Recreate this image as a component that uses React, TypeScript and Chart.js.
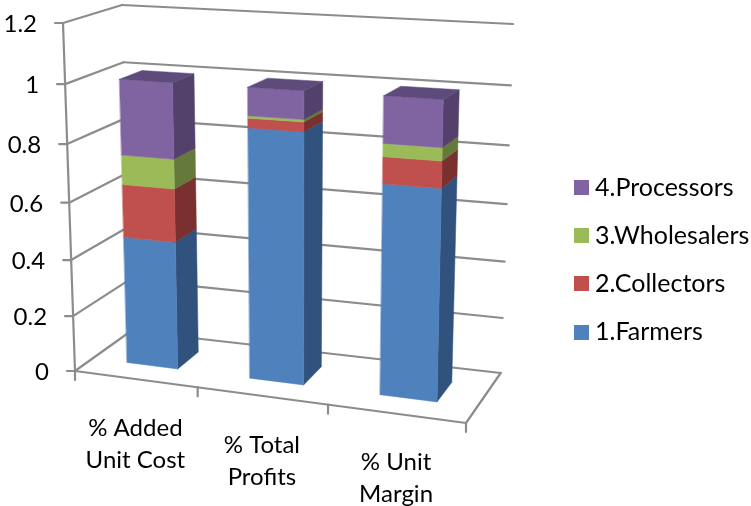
import React, { useEffect, useRef } from "react";
import { Chart, registerables } from "chart.js";

Chart.register(...registerables);

// Stage shares per value-chain step; every column stacks to 100%.
const categories = [["% Added", "Unit Cost"], ["% Total", "Profits"], ["% Unit", "Margin"]];
const farmers = [0.456, 0.867, 0.717];
const collectors = [0.185, 0.032, 0.088];
const wholesalers = [0.102, 0.008, 0.043];
const processors = [0.257, 0.093, 0.152];

const FONT = "Lato, Carlito, Calibri, sans-serif";
const GRID = "#8c8c8c";

type Pt = [number, number];

// Corners of the plot box as seen on screen: [u][v][d] = right?, top?, back?
const CORNERS: Pt[][][] = [
  [
    [[75, 371], [131, 331]],
    [[63, 23], [122, 5]],
  ],
  [
    [[466, 423], [500.7, 373]],
    [[474.5, 43.4], [513, 24]],
  ],
];

// Foreshortening along the two in-plane axes.
const warpU = (t: number) => t - 0.088 * t * (1 - t);
const warpV = (t: number) => t - 0.065 * t * (1 - t);

// Maps plot coordinates (fractions of the scales, plus depth) to the canvas.
function project(t: number, s: number, d: number): Pt {
  const u = warpU(t);
  const v = warpV(s);
  const out: Pt = [0, 0];
  for (let a = 0; a < 2; a++)
    for (let b = 0; b < 2; b++)
      for (let c = 0; c < 2; c++) {
        const w = (a ? u : 1 - u) * (b ? v : 1 - v) * (c ? d : 1 - d);
        out[0] += w * CORNERS[a][b][c][0];
        out[1] += w * CORNERS[a][b][c][1];
      }
  return out;
}

function quad(ctx: CanvasRenderingContext2D, pts: Pt[], color: string) {
  ctx.beginPath();
  pts.forEach((p, i) => (i ? ctx.lineTo(p[0], p[1]) : ctx.moveTo(p[0], p[1])));
  ctx.closePath();
  ctx.fillStyle = color;
  ctx.strokeStyle = color;
  ctx.lineWidth = 0.5;
  ctx.fill();
  ctx.stroke();
}

function line(ctx: CanvasRenderingContext2D, a: Pt, b: Pt) {
  ctx.beginPath();
  ctx.moveTo(a[0], a[1]);
  ctx.lineTo(b[0], b[1]);
  ctx.stroke();
}

const BAR_NEAR = 0.32;
const BAR_FAR = 0.72;

const box3d = {
  id: "box3d",
  beforeDatasetsDraw(chart: any) {
    const { ctx } = chart;
    const xs = chart.scales.x;
    const ys = chart.scales.y;
    const toT = (px: number) => (px - xs.left) / xs.width;
    const toS = (px: number) => (ys.bottom - px) / ys.height;

    ctx.save();
    ctx.strokeStyle = GRID;
    ctx.lineWidth = 2.2;
    ctx.lineCap = "round";

    // Walls: one gridline per tick across the side wall and the back wall.
    for (const tick of ys.ticks) {
      const s = toS(ys.getPixelForValue(tick.value));
      const front = project(0, s, 0);
      const back = project(0, s, 1);
      const right = project(1, s, 1);
      line(ctx, front, back);
      line(ctx, back, right);
      line(ctx, [front[0] - 8, front[1]], front);
    }
    line(ctx, project(0, 0, 0), project(0, 1, 0));

    // Floor outline and category ticks.
    line(ctx, project(0, 0, 0), project(1, 0, 0));
    line(ctx, project(1, 0, 0), project(1, 0, 1));
    const n = categories.length;
    for (let i = 0; i <= n; i++) {
      const p = project(i / n, 0, 0);
      line(ctx, p, [p[0], p[1] + 9]);
    }

    // Columns, left to right and bottom to top.
    const metas = chart.getSortedVisibleDatasetMetas().slice().sort((a: any, b: any) => a.index - b.index);
    for (let i = 0; i < n; i++) {
      metas.forEach((meta: any, k: number) => {
        const ds = chart.data.datasets[meta.index];
        const el = meta.data[i];
        const t0 = toT(el.x - el.width / 2);
        const t1 = toT(el.x + el.width / 2);
        const s0 = toS(el.base);
        const s1 = toS(el.y);
        quad(ctx, [project(t1, s0, BAR_NEAR), project(t1, s0, BAR_FAR), project(t1, s1, BAR_FAR), project(t1, s1, BAR_NEAR)], ds.sideColor);
        quad(ctx, [project(t0, s0, BAR_NEAR), project(t1, s0, BAR_NEAR), project(t1, s1, BAR_NEAR), project(t0, s1, BAR_NEAR)], ds.backgroundColor);
        if (k === metas.length - 1) {
          quad(ctx, [project(t0, s1, BAR_NEAR), project(t1, s1, BAR_NEAR), project(t1, s1, BAR_FAR), project(t0, s1, BAR_FAR)], ds.topColor);
        }
      });
    }

    // Value labels.
    ctx.fillStyle = "#000";
    ctx.font = `24px ${FONT}`;
    ctx.textBaseline = "middle";
    ctx.textAlign = "right";
    for (const tick of ys.ticks) {
      const p = project(0, toS(ys.getPixelForValue(tick.value)), 0);
      ctx.fillText(tick.label, p[0] - 26, p[1] + 1.5);
    }

    // Category labels follow the slope of the front edge.
    ctx.textAlign = "center";
    categories.forEach((lines, i) => {
      const p = project(toT(xs.getPixelForValue(i)), 0, 0);
      lines.forEach((text, j) => ctx.fillText(text, p[0], p[1] + 49 + j * 32));
    });

    // Legend, newest series on top.
    ctx.textAlign = "left";
    ctx.font = `25px ${FONT}`;
    metas.slice().reverse().forEach((meta: any, k: number) => {
      const ds = chart.data.datasets[meta.index];
      const cy = 187.5 + k * 48.2;
      ctx.fillStyle = ds.backgroundColor;
      ctx.fillRect(574, Math.round(cy - 7.5), 15, 15);
      ctx.fillStyle = "#000";
      ctx.fillText(ds.label, 595, cy);
    });

    ctx.restore();
    return false;
  },
};

export default function App() {
  const ref = useRef<HTMLCanvasElement>(null);

  useEffect(() => {
    const chart = new Chart(ref.current!, {
      type: "bar",
      data: {
        labels: categories,
        datasets: [
          { label: "1.Farmers", data: farmers, backgroundColor: "#4F81BD", sideColor: "#30527D" },
          { label: "2.Collectors", data: collectors, backgroundColor: "#C0504D", sideColor: "#7A302E" },
          { label: "3.Wholesalers", data: wholesalers, backgroundColor: "#9BBB59", sideColor: "#657A3A" },
          { label: "4.Processors", data: processors, backgroundColor: "#8064A2", sideColor: "#53416B", topColor: "#5F4A7C" },
        ] as any,
      },
      options: {
        responsive: false,
        animation: false,
        events: [],
        layout: { padding: { left: 75, right: 250, top: 23, bottom: 135 } },
        datasets: { bar: { barPercentage: 0.42, categoryPercentage: 1 } },
        plugins: { legend: { display: false }, tooltip: { enabled: false } },
        scales: {
          x: { stacked: true, display: false },
          y: {
            stacked: true,
            display: false,
            min: 0,
            max: 1.2,
            ticks: {
              stepSize: 0.2,
              callback: (value: any) => String(Number(Number(value).toFixed(1))),
            },
          },
        },
      },
      plugins: [box3d],
    } as any);
    return () => chart.destroy();
  }, []);

  return (
    <div style={{ position: "absolute", left: 0, top: 0, width: 751, height: 506, background: "#fff" }}>
      <canvas ref={ref} width={751} height={506} style={{ display: "block" }} />
    </div>
  );
}
